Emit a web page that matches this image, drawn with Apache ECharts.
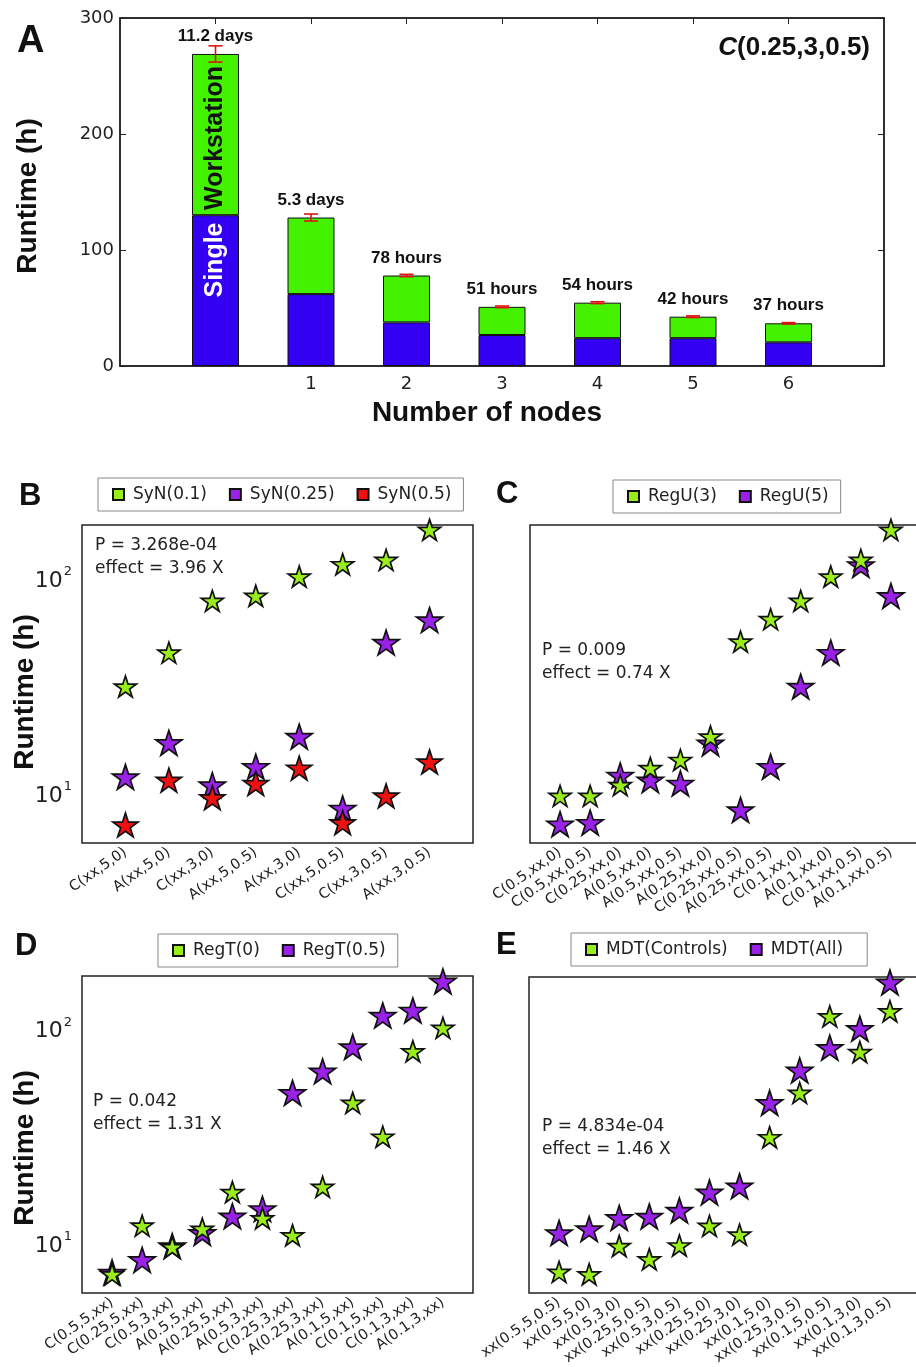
<!DOCTYPE html>
<html>
<head>
<meta charset="utf-8">
<script src="https://cdn.jsdelivr.net/npm/echarts@6/dist/echarts.min.js"></script>
<style>
  html, body { margin: 0; padding: 0; background: #fff; }
  #main { width: 916px; height: 1367px; }
</style>
</head>
<body>
<div id="main"></div>
<script>
// panel A - runtime vs number of nodes (slot 1 = single workstation, slots 0 and 8 are empty padding)
const nodeSlots = ['', '', '1', '2', '3', '4', '5', '6', ''];
const phaseOneHours = [130, 62, 37.6, 26.7, 24, 24, 20.4];
const totalHours = [269, 128, 78, 51, 54.6, 42.5, 36.8];
const errLow = [262, 125, 77, 50.3, 53.8, 41.8, 36.2];
const errHigh = [276, 131, 79, 51.7, 55.4, 43.2, 37.4];
const durationLabels = ['11.2 days', '5.3 days', '78 hours', '51 hours', '54 hours', '42 hours', '37 hours'];

// panel B
const catsB = ['C(xx,5,0)', 'A(xx,5,0)', 'C(xx,3,0)', 'A(xx,5,0.5)', 'A(xx,3,0)', 'C(xx,5,0.5)', 'C(xx,3,0.5)', 'A(xx,3,0.5)'];
const synN01 = [31.6, 45.4, 79.0, 83.4, 102.5, 117, 122.5, 169];
const synN025 = [12.0, 17.3, 11.0, 13.4, 18.5, 8.57, 50.6, 64.4];
const synN05 = [7.18, 11.6, 9.61, 11.2, 13.2, 7.36, 9.80, 14.1];

// panel C
const catsC = ['C(0.5,xx,0)', 'C(0.5,xx,0.5)', 'C(0.25,xx,0)', 'A(0.5,xx,0)', 'A(0.5,xx,0.5)', 'A(0.25,xx,0)',
  'C(0.25,xx,0.5)', 'A(0.25,xx,0.5)', 'C(0.1,xx,0)', 'A(0.1,xx,0)', 'C(0.1,xx,0.5)', 'A(0.1,xx,0.5)'];
const regU3 = [9.80, 9.80, 11.0, 13.2, 14.4, 18.5, 51.1, 65.0, 79.0, 102.5, 122.5, 169];
const regU5 = [7.24, 7.36, 12.2, 11.6, 11.2, 17.2, 8.43, 13.4, 31.6, 45.4, 116, 83.4];

// panel D
const catsD = ['C(0.5,5,xx)', 'C(0.25,5,xx)', 'C(0.5,3,xx)', 'A(0.5,5,xx)', 'A(0.25,5,xx)', 'A(0.5,3,xx)',
  'C(0.25,3,xx)', 'A(0.25,3,xx)', 'A(0.1,5,xx)', 'C(0.1,5,xx)', 'C(0.1,3,xx)', 'A(0.1,3,xx)'];
const regT0 = [7.24, 12.2, 9.70, 11.8, 17.5, 13.2, 11.0, 18.5, 45.6, 31.7, 79.3, 102];
const regT05 = [7.38, 8.45, 9.80, 11.3, 13.5, 14.6, 50.8, 64.0, 83.1, 116.5, 123, 168];

// panel E
const catsE = ['xx(0.5,5,0.5)', 'xx(0.5,5,0)', 'xx(0.5,3,0)', 'xx(0.25,5,0.5)', 'xx(0.5,3,0.5)', 'xx(0.25,5,0)',
  'xx(0.25,3,0)', 'xx(0.1,5,0)', 'xx(0.25,3,0.5)', 'xx(0.1,5,0.5)', 'xx(0.1,3,0)', 'xx(0.1,3,0.5)'];
const mdtControls = [7.43, 7.24, 9.82, 8.51, 9.88, 12.2, 11.1, 31.7, 51.1, 116.5, 79.3, 123];
const mdtAll = [11.3, 11.8, 13.3, 13.5, 14.4, 17.5, 18.7, 45.9, 65.1, 83.1, 102, 168];

const GREEN = '#99ee1a', PURPLE = '#9a22e8', RED = '#ee1111';
const BAR_BLUE = '#3300f2', BAR_GREEN = '#44f200';
const STAR = 'path://M50,0 L61.23,34.55 L97.55,34.55 L68.16,55.9 L79.39,90.45 L50,69.1 L20.61,90.45 L31.84,55.9 L2.45,34.55 L38.77,34.55 Z';
const TICK_FONT = 'DejaVu Sans';
const BOLD_FONT = 'Liberation Sans, Arial, sans-serif';

const chart = echarts.init(document.getElementById('main'));

const grids = [
  { left: 120, top: 18, width: 764, height: 348 },
  { left: 82, top: 525, width: 391, height: 318 },
  { left: 530, top: 525, width: 391, height: 318 },
  { left: 82, top: 976, width: 391, height: 317 },
  { left: 529, top: 977, width: 391, height: 316 }
].map(g => Object.assign({ show: true, borderColor: '#222', borderWidth: 1.5, backgroundColor: '#fff', outerBoundsMode: 'none' }, g));

function logLabel(v) {
  const p = Math.log10(v);
  if (Math.abs(p - Math.round(p)) < 1e-6) return '{b|10}{s|' + Math.round(p) + '}';
  return '';
}

function catAxis(gridIndex, cats) {
  return {
    type: 'value', gridIndex, min: 0, max: cats.length + 1, interval: 1,
    axisLine: { show: false }, axisTick: { show: false }, splitLine: { show: false },
    axisLabel: {
      rotate: 35, margin: 8, fontFamily: TICK_FONT, fontSize: 14.5, color: '#222',
      formatter: v => cats[v - 1] || ''
    }
  };
}

function logAxis(gridIndex, showLabels) {
  return {
    type: 'log', logBase: 10, gridIndex, min: 5.92, max: 178,
    axisLine: { show: false }, axisTick: { show: false }, splitLine: { show: false },
    axisLabel: {
      show: showLabels, margin: 10, formatter: logLabel,
      rich: {
        b: { fontFamily: TICK_FONT, fontSize: 22, lineHeight: 26, color: '#222', verticalAlign: 'bottom' },
        s: { fontFamily: TICK_FONT, fontSize: 13, lineHeight: 14, padding: [0, 0, 14, 1], color: '#222', verticalAlign: 'bottom' }
      }
    }
  };
}

function stars(name, values, axisIndex, color, size, z) {
  return {
    name, type: 'scatter', xAxisIndex: axisIndex, yAxisIndex: axisIndex, z,
    symbol: STAR, symbolSize: size, symbolKeepAspect: true,
    itemStyle: { color, borderColor: '#111', borderWidth: 1.7, opacity: 1 },
    emphasis: { disabled: true },
    data: values.map((v, i) => [i + 1, v])
  };
}

function legendBox(left, top, names, rightPad) {
  return {
    left, top, data: names, icon: 'rect', itemWidth: 11, itemHeight: 11, itemGap: 22,
    selectedMode: false, padding: [8, rightPad || 12, 8, 14], borderColor: '#888', borderWidth: 1,
    textStyle: { fontFamily: TICK_FONT, fontSize: 17, color: '#222', padding: [0, 0, 0, 4] }
  };
}

function note(x, y, text, extra) {
  return {
    type: 'text', x, y, z: 100, silent: true,
    style: Object.assign({ text, fill: '#111', font: 'bold 31px ' + BOLD_FONT,
      textAlign: 'left', align: 'left', textVerticalAlign: 'middle', verticalAlign: 'middle' }, extra || {})
  };
}

function stat(x, y, lines) {
  return [
    note(x, y, lines[0], { font: '17px ' + TICK_FONT, fill: '#222' }),
    note(x, y + 23, lines[1], { font: '17px ' + TICK_FONT, fill: '#222' })
  ];
}

function vertical(x, y, text, font, fill) {
  return {
    type: 'text', x, y, z: 100, rotation: Math.PI / 2, silent: true,
    style: { text, font, fill, textAlign: 'center', align: 'center', textVerticalAlign: 'middle', verticalAlign: 'middle' }
  };
}

const slotTicks = idx => idx >= 1 && idx <= 7;

const option = {
  animation: false,
  backgroundColor: '#fff',
  grid: grids,
  xAxis: [
    {
      type: 'category', gridIndex: 0, data: nodeSlots, boundaryGap: false, position: 'bottom',
      axisLine: { onZero: false, lineStyle: { color: '#222', width: 1.5 } },
      axisTick: { inside: true, length: 6, interval: slotTicks, lineStyle: { color: '#222' } },
      splitLine: { show: false },
      axisLabel: { interval: 0, margin: 9, fontFamily: TICK_FONT, fontSize: 18, color: '#222' }
    },
    {
      type: 'category', gridIndex: 0, data: nodeSlots, boundaryGap: false, position: 'top',
      axisLine: { onZero: false, lineStyle: { color: '#222', width: 1.5 } },
      axisTick: { inside: true, length: 6, interval: slotTicks, lineStyle: { color: '#222' } },
      axisLabel: { show: false }, splitLine: { show: false }
    },
    catAxis(1, catsB), catAxis(2, catsC), catAxis(3, catsD), catAxis(4, catsE)
  ],
  yAxis: [
    {
      type: 'value', gridIndex: 0, min: 0, max: 300, interval: 100,
      axisLine: { show: true, onZero: false, lineStyle: { color: '#222', width: 1.5 } },
      axisTick: { show: true, inside: true, length: 6, lineStyle: { color: '#222' } },
      splitLine: { show: false },
      axisLabel: { margin: 6, fontFamily: TICK_FONT, fontSize: 18, color: '#222' }
    },
    {
      type: 'value', gridIndex: 0, min: 0, max: 300, interval: 100, position: 'right',
      axisLine: { show: true, onZero: false, lineStyle: { color: '#222', width: 1.5 } },
      axisTick: { show: true, inside: true, length: 6, lineStyle: { color: '#222' } },
      axisLabel: { show: false }, splitLine: { show: false }
    },
    logAxis(1, true), logAxis(2, false), logAxis(3, true), logAxis(4, false)
  ],
  legend: [
    legendBox(98, 478, ['SyN(0.1)', 'SyN(0.25)', 'SyN(0.5)']),
    legendBox(613, 480, ['RegU(3)', 'RegU(5)']),
    legendBox(158, 934, ['RegT(0)', 'RegT(0.5)']),
    legendBox(571, 933, ['MDT(Controls)', 'MDT(All)'], 24)
  ],
  series: [
    {
      name: 'phase1', type: 'bar', xAxisIndex: 0, yAxisIndex: 0, stack: 'run', barWidth: 47,
      itemStyle: { color: BAR_BLUE, borderColor: '#111', borderWidth: 1 },
      emphasis: { disabled: true },
      data: phaseOneHours.map((v, i) => [i + 1, v])
    },
    {
      name: 'phase2', type: 'bar', xAxisIndex: 0, yAxisIndex: 0, stack: 'run', barWidth: 47,
      itemStyle: { color: BAR_GREEN, borderColor: '#111', borderWidth: 1 },
      emphasis: { disabled: true },
      label: {
        show: true, position: 'top', distance: 9,
        fontFamily: BOLD_FONT, fontWeight: 'bold', fontSize: 17, color: '#111',
        formatter: p => durationLabels[p.dataIndex]
      },
      data: totalHours.map((v, i) => [i + 1, +(v - phaseOneHours[i]).toFixed(2)])
    },
    {
      name: 'err', type: 'custom', xAxisIndex: 0, yAxisIndex: 0, z: 5,
      encode: { x: 0, y: [1, 2] },
      data: errLow.map((v, i) => [i + 1, v, errHigh[i]]),
      renderItem: function (params, api) {
        const lo = api.coord([api.value(0), api.value(1)]);
        const hi = api.coord([api.value(0), api.value(2)]);
        const w = 7;
        const st = { stroke: '#e01010', lineWidth: 1.6 };
        return {
          type: 'group', children: [
            { type: 'line', shape: { x1: lo[0], y1: lo[1], x2: hi[0], y2: hi[1] }, style: st },
            { type: 'line', shape: { x1: lo[0] - w, y1: lo[1], x2: lo[0] + w, y2: lo[1] }, style: st },
            { type: 'line', shape: { x1: hi[0] - w, y1: hi[1], x2: hi[0] + w, y2: hi[1] }, style: st }
          ]
        };
      }
    },
    stars('SyN(0.1)', synN01, 2, GREEN, 22, 2),
    stars('SyN(0.25)', synN025, 2, PURPLE, 26, 3),
    stars('SyN(0.5)', synN05, 2, RED, 25, 4),
    stars('RegU(5)', regU5, 3, PURPLE, 26, 2),
    stars('RegU(3)', regU3, 3, GREEN, 22, 3),
    stars('RegT(0.5)', regT05, 4, PURPLE, 26, 2),
    stars('RegT(0)', regT0, 4, GREEN, 22, 3),
    stars('MDT(All)', mdtAll, 5, PURPLE, 26, 2),
    stars('MDT(Controls)', mdtControls, 5, GREEN, 22, 3)
  ],
  graphic: [
    note(17, 42, 'A', { font: 'bold 38px ' + BOLD_FONT }),
    note(19, 496, 'B'),
    note(496, 494, 'C'),
    note(15, 946, 'D'),
    note(496, 945, 'E'),
    vertical(28, 196, 'Runtime (h)', 'bold 28px ' + BOLD_FONT, '#111'),
    vertical(25, 692, 'Runtime (h)', 'bold 28px ' + BOLD_FONT, '#111'),
    vertical(25, 1148, 'Runtime (h)', 'bold 28px ' + BOLD_FONT, '#111'),
    note(487, 413, 'Number of nodes', { font: 'bold 28px ' + BOLD_FONT, textAlign: 'center', align: 'center' }),
    {
      type: 'text', x: 870, y: 48, z: 100, silent: true,
      style: {
        text: '{i|C}{n|(0.25,3,0.5)}', textAlign: 'right', align: 'right',
        textVerticalAlign: 'middle', verticalAlign: 'middle',
        rich: {
          i: { font: 'italic bold 26px ' + BOLD_FONT, fill: '#111' },
          n: { font: 'bold 26px ' + BOLD_FONT, fill: '#111' }
        }
      }
    },
    vertical(215, 260, 'Single', 'bold 25px ' + BOLD_FONT, '#fff'),
    vertical(215, 138, 'Workstation', 'bold 25px ' + BOLD_FONT, '#111'),
    ...stat(95, 546, ['P = 3.268e-04', 'effect = 3.96 X']),
    ...stat(542, 651, ['P = 0.009', 'effect = 0.74 X']),
    ...stat(93, 1102, ['P = 0.042', 'effect = 1.31 X']),
    ...stat(542, 1127, ['P = 4.834e-04', 'effect = 1.46 X'])
  ]
};

chart.setOption(option);
</script>
</body>
</html>
